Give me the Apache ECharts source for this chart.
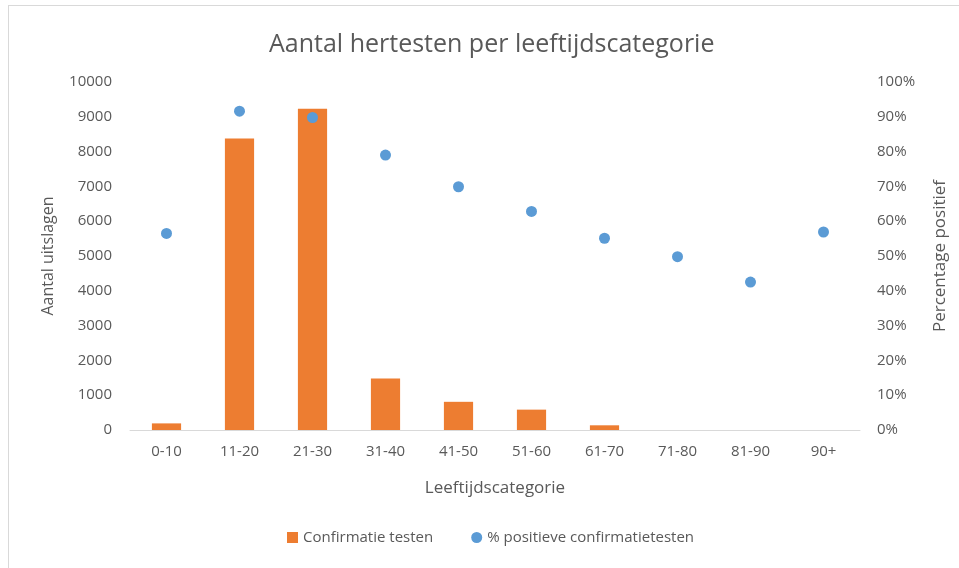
<!DOCTYPE html>
<html>
<head>
<meta charset="utf-8">
<script src="https://cdn.jsdelivr.net/npm/echarts@6/dist/echarts.min.js"></script>
<style>
  html, body { margin: 0; padding: 0; background: #fff; }
  #frame {
    position: absolute; left: 8px; top: 5px; width: 960px; height: 570px;
    border-left: 1px solid #d9d9d9; border-top: 1px solid #d9d9d9;
  }
  #chart { position: absolute; left: 0; top: 0; width: 959px; height: 568px; }
</style>
</head>
<body>
<div id="frame"></div>
<div id="chart"></div>
<script>
// categorieën en waarden
const categories = ['0-10', '11-20', '21-30', '31-40', '41-50', '51-60', '61-70', '71-80', '81-90', '90+'];
const confirmatieTesten = [190, 8380, 9230, 1480, 810, 585, 135, 0, 0, 0];
const percentagePositief = [56.5, 91.6, 89.8, 79.0, 69.9, 62.8, 55.1, 49.8, 42.5, 56.9];

const font = 'Open Sans';
const grey = '#595959';

const chart = echarts.init(document.getElementById('chart'));

const option = {
  backgroundColor: 'transparent',
  animation: false,
  title: {
    text: 'Aantal hertesten per leeftijdscategorie',
    left: 264,
    top: 27,
    textStyle: { fontFamily: font, fontSize: 25, fontWeight: 'normal', color: grey }
  },
  legend: {
    bottom: 18,
    left: 282,
    itemGap: 38,
    itemWidth: 11,
    itemHeight: 11,
    textStyle: { fontFamily: font, fontSize: 15, color: grey },
    data: [
      { name: 'Confirmatie testen', icon: 'rect' },
      { name: '% positieve confirmatietesten', icon: 'circle' }
    ]
  },
  grid: { left: 130, right: 99, top: 82, bottom: 138 },
  xAxis: {
    type: 'category',
    data: categories,
    name: 'Leeftijdscategorie',
    nameLocation: 'middle',
    nameGap: 50,
    nameTextStyle: { fontFamily: font, fontSize: 17, color: grey },
    axisLine: { lineStyle: { color: '#d9d9d9' } },
    axisTick: { show: false },
    axisLabel: { fontFamily: font, fontSize: 15, color: grey, margin: 14 }
  },
  yAxis: [
    {
      type: 'value',
      min: 0,
      max: 10000,
      interval: 1000,
      name: 'Aantal uitslagen',
      nameLocation: 'middle',
      nameGap: 74,
      nameTextStyle: { fontFamily: font, fontSize: 16, color: grey },
      axisLine: { show: false },
      axisTick: { show: false },
      splitLine: { show: false },
      axisLabel: { fontFamily: font, fontSize: 15, color: grey, margin: 18, formatter: v => String(v) }
    },
    {
      type: 'value',
      min: 0,
      max: 100,
      interval: 10,
      name: 'Percentage positief',
      nameLocation: 'middle',
      nameGap: 72,
      nameRotate: 90,
      nameTextStyle: { fontFamily: font, fontSize: 17, color: grey },
      axisLine: { show: false },
      axisTick: { show: false },
      splitLine: { show: false },
      axisLabel: { fontFamily: font, fontSize: 15, color: grey, margin: 17, formatter: '{value}%' }
    }
  ],
  series: [
    {
      name: 'Confirmatie testen',
      type: 'bar',
      data: confirmatieTesten,
      barWidth: '40%',
      itemStyle: { color: '#ED7D31' }
    },
    {
      name: '% positieve confirmatietesten',
      type: 'scatter',
      yAxisIndex: 1,
      data: percentagePositief,
      symbolSize: 11,
      itemStyle: { color: '#5B9BD5', opacity: 1 }
    }
  ]
};

chart.setOption(option);
</script>
</body>
</html>
